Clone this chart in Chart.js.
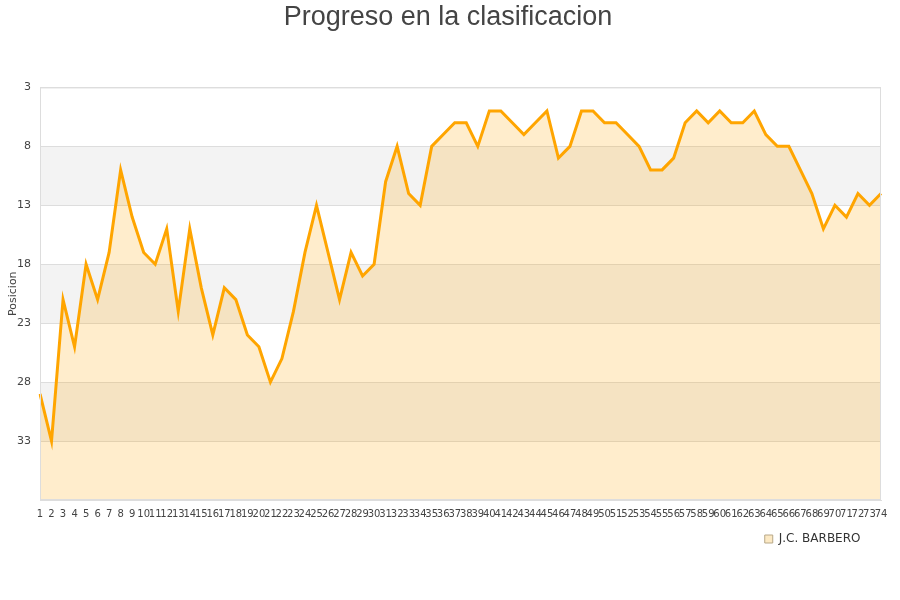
<!DOCTYPE html>
<html>
<head>
<meta charset="utf-8">
<script src="https://cdn.jsdelivr.net/npm/chart.js@4/dist/chart.umd.min.js"></script>
<style>
html,body{margin:0;padding:0;background:#fff;}
#wrap{width:900px;height:600px;}
</style>
</head>
<body>
<div id="wrap"><canvas id="c" width="900" height="600"></canvas></div>
<script>
const jornadas = Array.from({length: 74}, (_, i) => String(i + 1));
const posiciones = [29,33,21,25,18,21,17,10,14,17,18,15,22,15,20,24,20,21,24,25,28,26,22,17,13,17,21,17,19,18,11,8,12,13,8,7,6,6,8,5,5,6,7,6,5,9,8,5,5,6,6,7,8,10,10,9,6,5,6,5,6,6,5,7,8,8,10,12,15,13,14,12,13,12];
const bandas = [[8,13],[18,23],[28,33]];
const serieNombre = 'J.C. BARBERO';
const tituloTexto = 'Progreso en la clasificacion';

const bandPlugin = {
  id: 'bands',
  beforeDraw(chart) {
    const {ctx, chartArea, scales} = chart;
    ctx.save();
    ctx.fillStyle = '#f3f3f3';
    bandas.forEach(([a, b]) => {
      const y1 = scales.y.getPixelForValue(a);
      const y2 = scales.y.getPixelForValue(b);
      ctx.fillRect(chartArea.left, Math.min(y1, y2), chartArea.right - chartArea.left, Math.abs(y2 - y1));
    });
    ctx.restore();
  }
};

new Chart(document.getElementById('c'), {
  type: 'line',
  data: {
    labels: jornadas,
    datasets: [{
      label: serieNombre,
      data: posiciones,
      borderColor: '#FFA500',
      backgroundColor: 'rgba(255,165,0,0.2)',
      borderWidth: 3,
      pointRadius: 0,
      tension: 0,
      fill: 'start'
    }]
  },
  options: {
    responsive: false,
    animation: false,
    layout: {padding: {left: 0, right: 4, top: 1, bottom: 45}},
    plugins: {
      title: {
        display: true,
        text: tituloTexto,
        color: '#444',
        font: {family: 'Liberation Sans', size: 27, weight: 'normal'},
        padding: {top: 0, bottom: 54}
      },
      legend: {
        position: 'bottom',
        align: 'end',
        labels: {
          color: '#333',
          font: {family: 'DejaVu Sans', size: 12},
          boxWidth: 8,
          boxHeight: 8,
          padding: 5,
          generateLabels(chart) {
            const items = Chart.defaults.plugins.legend.labels.generateLabels(chart);
            items.forEach(it => {
              it.text = it.text + '\u00a0\u00a0\u00a0\u00a0\u00a0\u00a0\u00a0\u00a0';
              it.fillStyle = '#FCE9C4';
              it.strokeStyle = '#B8A888';
              it.lineWidth = 1;
            });
            return items;
          }
        }
      },
      tooltip: {enabled: false}
    },
    scales: {
      x: {
        grid: {display: false, drawTicks: false},
        border: {color: '#ddd'},
        ticks: {
          autoSkip: false,
          maxRotation: 0,
          minRotation: 0,
          color: '#444',
          font: {family: 'DejaVu Sans', size: 10},
          padding: 8
        }
      },
      y: {
        reverse: true,
        min: 3,
        max: 38,
        afterFit(scale) { scale.width = 40; },
        grid: {color: '#ddd', drawTicks: false},
        border: {color: '#ddd'},
        title: {display: true, text: 'Posicion', color: '#444', font: {family: 'DejaVu Sans', size: 11}, padding: 7},
        ticks: {
          stepSize: 5,
          color: '#444',
          font: {family: 'DejaVu Sans', size: 11},
          padding: 9,
          callback: (v) => v === 38 ? '' : v
        }
      },
      yDer: {
        position: 'right',
        display: true,
        afterFit(scale) { scale.width = 15; },
        grid: {display: false, drawTicks: false},
        border: {display: false},
        ticks: {display: false}
      }
    }
  },
  plugins: [bandPlugin, {
    id: 'frame',
    afterDraw(chart) {
      const {ctx, chartArea} = chart;
      ctx.save();
      ctx.strokeStyle = '#ddd';
      ctx.lineWidth = 1;
      ctx.strokeRect(chartArea.left + 0.5, chartArea.top + 0.5, chartArea.right - chartArea.left - 1, chartArea.bottom - chartArea.top - 1);
      ctx.restore();
    }
  }]
});
</script>
</body>
</html>
